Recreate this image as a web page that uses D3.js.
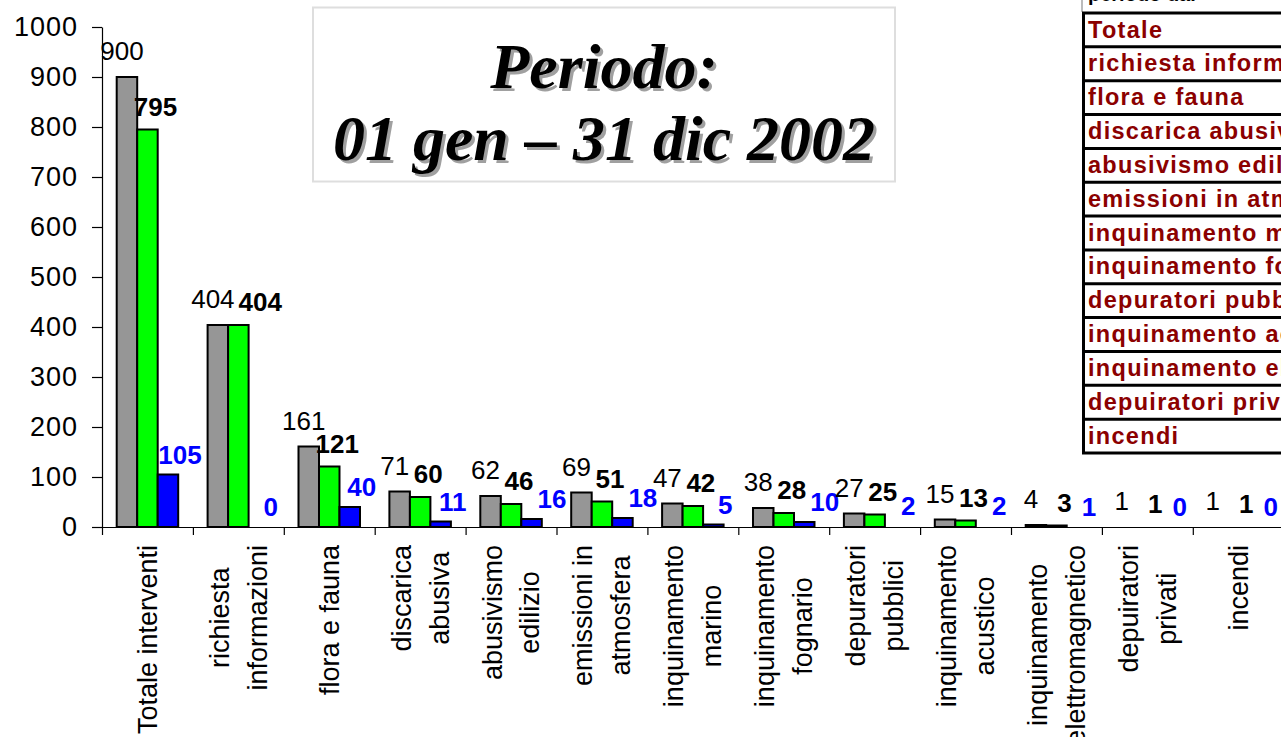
<!DOCTYPE html>
<html>
<head>
<meta charset="utf-8">
<script src="https://cdn.jsdelivr.net/npm/d3@7"></script>
<style>
body { margin: 0; background: #fff; }
svg { display: block; font-family: "Liberation Sans", Arial, sans-serif; }
</style>
</head>
<body>
<svg width="1281" height="737"></svg>
<script>
var categories = ["Totale interventi", "richiesta informazioni", "flora e fauna", "discarica abusiva",
  "abusivismo edilizio", "emissioni in atmosfera", "inquinamento marino", "inquinamento fognario",
  "depuratori pubblici", "inquinamento acustico", "inquinamento elettromagnetico", "depuiratori privati", "incendi"];
var catLines = [["Totale interventi"], ["richiesta", "informazioni"], ["flora e fauna"], ["discarica", "abusiva"],
  ["abusivismo", "edilizio"], ["emissioni in", "atmosfera"], ["inquinamento", "marino"], ["inquinamento", "fognario"],
  ["depuratori", "pubblici"], ["inquinamento", "acustico"], ["inquinamento", "elettromagnetico"], ["depuiratori", "privati"], ["incendi"]];
var totale = [900, 404, 161, 71, 62, 69, 47, 38, 27, 15, 4, 1, 1];
var evasi = [795, 404, 121, 60, 46, 51, 42, 28, 25, 13, 3, 1, 1];
var inCorso = [105, 0, 40, 11, 16, 18, 5, 10, 2, 2, 1, 0, 0];
var yTicks = [0, 100, 200, 300, 400, 500, 600, 700, 800, 900, 1000];
var tableRows = ["Totale", "richiesta informazioni", "flora e fauna", "discarica abusiva", "abusivismo edilizio",
  "emissioni in atmosfera", "inquinamento marino", "inquinamento fognario", "depuratori pubblici",
  "inquinamento acustico", "inquinamento elettromagnetico", "depuiratori privati", "incendi"];

var svg = d3.select("svg");

// series styling
var series = [
  {key: "tot", vals: totale, fill: "#969696", lab: "#000", weight: "normal", dx: -5, dy: -17},
  {key: "eva", vals: evasi, fill: "#00ff00", lab: "#000", weight: "bold", dx: 8, dy: -14},
  {key: "cor", vals: inCorso, fill: "#0000ff", lab: "#0000ff", weight: "bold", dx: 12, dy: -11}
];

var x0 = 102, catW = 90.9;
var x = d3.scaleBand().domain(categories).range([x0, x0 + catW * categories.length]);
var xs = d3.scaleBand().domain(series.map(d => d.key)).range([14.7, 14.7 + 61.5]);
var y = d3.scaleLinear().domain([0, 1000]).range([527, 27]);
var idx = d3.scaleLinear().domain([0, categories.length]).range(x.range());

// title box
var tb = svg.append("g");
tb.append("rect").attr("x", 313).attr("y", 7.5).attr("width", 582).attr("height", 174)
  .attr("fill", "#fff").attr("stroke", "#dedede").attr("stroke-width", 2);
var titleLines = ["Periodo:", "01 gen \u2013 31 dic 2002"];
[[3, 3, "#a0a0a0"], [0, 0, "#000"]].forEach(function(s) {
  tb.selectAll(null).data(titleLines).enter().append("text")
    .attr("x", 604 + s[0]).attr("y", (d, i) => 88 + i * 72 + s[1])
    .attr("text-anchor", "middle")
    .style("font-family", "'Liberation Serif', 'Times New Roman', serif")
    .style("font-weight", "bold").style("font-style", "italic").style("font-size", "64px")
    .attr("fill", s[2]).text(d => d);
});

// y axis
var yAxis = svg.append("g").attr("transform", "translate(" + x0 + ",0)")
  .call(d3.axisLeft(y).tickValues(yTicks).tickSize(10).tickSizeOuter(0).tickPadding(14).tickFormat(d3.format("d")));
yAxis.selectAll("text").style("font-size", "27px").style("letter-spacing", "1px").attr("fill", "#000");
yAxis.selectAll("line, path").attr("stroke", "#000").attr("stroke-width", 1.2);

// x axis (ticks between categories)
var xAxis = svg.append("g").attr("transform", "translate(0," + y(0) + ")")
  .call(d3.axisBottom(idx).tickValues(d3.range(categories.length + 1)).tickSize(8).tickSizeOuter(0).tickFormat(""));
xAxis.selectAll("line, path").attr("stroke", "#000").attr("stroke-width", 1.2);

// bars
var groups = svg.append("g").selectAll("g").data(categories).enter().append("g")
  .attr("transform", d => "translate(" + x(d) + ",0)");

series.forEach(function(s) {
  groups.filter((d, i) => s.vals[i] >= 3).append("rect")
    .attr("x", xs(s.key))
    .attr("y", d => y(s.vals[categories.indexOf(d)]))
    .attr("width", xs.bandwidth())
    .attr("height", d => y(0) - y(s.vals[categories.indexOf(d)]))
    .attr("fill", s.fill)
    .attr("stroke", "#000")
    .attr("stroke-width", 2);
});

// value labels, pushed apart when neighbours collide
groups.each(function(d, i) {
  var g = d3.select(this);
  var prevRight = -Infinity, prevBase = null;
  series.forEach(function(s) {
    var t = g.append("text")
      .attr("text-anchor", "middle")
      .style("font-size", "26px").style("font-weight", s.weight)
      .attr("fill", s.lab)
      .text(s.vals[i]);
    var cx = xs(s.key) + xs.bandwidth() / 2 + s.dx;
    var base = y(s.vals[i]) + s.dy;
    var w = t.node().getComputedTextLength();
    if (prevBase !== null && Math.abs(prevBase - base) < 20 && cx - w / 2 < prevRight + 4) {
      cx = prevRight + 4 + w / 2;
    }
    t.attr("x", cx).attr("y", base);
    prevRight = cx + w / 2;
    prevBase = base;
  });
});

// category labels, rotated, block top at y=545
groups.each(function(d, i) {
  var g = d3.select(this);
  var t = g.append("text").style("font-size", "27px").attr("fill", "#000").attr("text-anchor", "middle");
  var lines = catLines[i];
  lines.forEach(function(l, j) {
    t.append("tspan").attr("x", 0).attr("y", (j - (lines.length - 1) / 2) * 38).attr("dy", "0.35em").text(l);
  });
  var w = 0;
  t.selectAll("tspan").each(function() { w = Math.max(w, this.getComputedTextLength()); });
  t.attr("transform", "translate(" + (x.bandwidth() / 2) + "," + (545 + w / 2) + ") rotate(-90)");
});

// table on the right
var tbl = svg.append("g");
var rowH = (453 - 13) / tableRows.length;
tbl.append("line").attr("x1", 1082).attr("x2", 1082).attr("y1", 0).attr("y2", 12)
  .attr("stroke", "#bbb").attr("stroke-width", 2);
tbl.append("text").attr("x", 1088).attr("y", 1).style("font-size", "20px").style("font-weight", "bold")
  .attr("fill", "#000").text("periodo dal");
tbl.append("rect").attr("x", 1083.5).attr("y", 13).attr("width", 220).attr("height", 440)
  .attr("fill", "#fff").attr("stroke", "#000").attr("stroke-width", 3);
tbl.selectAll(".sep").data(tableRows.slice(1)).enter().append("line")
  .attr("x1", 1083).attr("x2", 1290)
  .attr("y1", (d, i) => 13 + (i + 1) * rowH).attr("y2", (d, i) => 13 + (i + 1) * rowH)
  .attr("stroke", "#000").attr("stroke-width", 3);
tbl.selectAll(".rl").data(tableRows).enter().append("text")
  .attr("x", 1088).attr("y", (d, i) => 13 + i * rowH + 24.5)
  .style("font-size", "23.5px").style("font-weight", "bold").style("letter-spacing", "1.3px")
  .attr("fill", "#8b0000").text(d => d);
</script>
</body>
</html>
